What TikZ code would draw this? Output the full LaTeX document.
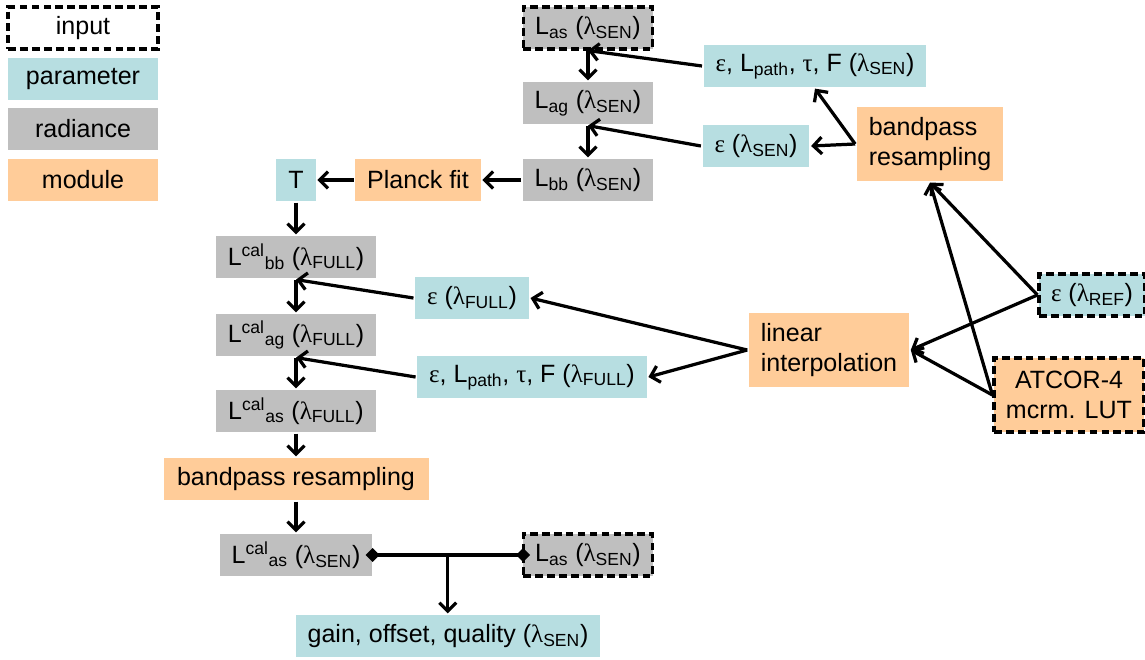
\documentclass[tikz,border=0pt]{standalone}
\usepackage{fontspec}
\setmainfont{Liberation Sans}
\newfontfamily\grk{Liberation Serif}
\usetikzlibrary{arrows.meta,positioning,calc}
\definecolor{parcol}{RGB}{183,222,225}
\definecolor{radcol}{RGB}{191,191,191}
\definecolor{modcol}{RGB}{255,204,153}
\newcommand{\wl}[1]{({\grk λ}\textsubscript{#1})}
\newcommand{\eps}{{\grk ε}}
\newcommand{\tr}{{\grk τ}}
\newcommand{\Ls}[1]{L\textsubscript{#1}}
\newcommand{\Lc}[1]{L\textsuperscript{cal}\textsubscript{#1}}

\begin{document}
\begin{tikzpicture}[on grid, node distance=1.9cm, line width=2.3pt,
    >={Straight Barb[length=6pt,width=12pt]},
    every node/.style={font=\fontsize{17.8pt}{21.3pt}\selectfont, inner xsep=0.3cm, inner ysep=0pt, minimum height=1.05cm},
    parbox/.style={fill=parcol}, radbox/.style={fill=radcol}, modbox/.style={fill=modcol},
    inbox/.style={draw, dash pattern=on 5.5pt off 3pt, line width=2.2pt},
    legend/.style={minimum width=3.75cm},
    twoline/.style={align=left, minimum height=1.85cm}]
  \useasboundingbox (0,0) rectangle (28.625,-16.475);

  % legend
  \node[inbox,legend,fill=white] (leg1) at (2.075,-0.7) {input};
  \node[parbox,legend] (leg2) [below=1.275cm of leg1] {parameter};
  \node[radbox,legend] (leg3) [below=1.25cm of leg2] {radiance};
  \node[modbox,legend] (leg4) [below=1.275cm of leg3] {module};

  % radiances at sensor and full resolution
  \node[radbox,inbox] (las) at (14.7,-0.7) {\Ls{as} \wl{SEN}};
  \node[radbox] (lag) [below=1.875cm of las] {\Ls{ag} \wl{SEN}};
  \node[radbox] (lbb) [below=1.925cm of lag] {\Ls{bb} \wl{SEN}};
  \node[modbox] (planck) [left=4.25cm of lbb] {Planck fit};
  \node[parbox] (temp) [left=3.05cm of planck] {T};
  \node[radbox] (calbb) [below=1.925cm of temp] {\Lc{bb} \wl{FULL}};
  \node[radbox] (calag) [below=1.95cm of calbb] {\Lc{ag} \wl{FULL}};
  \node[radbox] (calas) [below=1.9cm of calag] {\Lc{as} \wl{FULL}};
  \node[modbox,minimum width=6.625cm] (bplow) [below=1.7cm of calas] {bandpass resampling};
  \node[radbox] (calsen) [below=1.9cm of bplow] {\Lc{as} \wl{SEN}};
  \node[radbox,inbox] (lasin) [right=7.3cm of calsen] {\Ls{as} \wl{SEN}};
  \node[parbox] (gain) [below right=2.025cm and 3.8cm of calsen] {gain, offset, quality \wl{SEN}};

  % parameters and modules
  \node[parbox] (parsen) [below right=0.95cm and 5.675cm of las] {\eps, \Ls{path}, \tr, F \wl{SEN}};
  \node[parbox] (epssen) [below right=1.075cm and 4.2cm of lag] {\eps{} \wl{SEN}};
  \node[modbox,twoline] (bpup) [above right=0.05cm and 4.35cm of epssen] {bandpass\\resampling};
  \node[parbox] (epsfull) [below right=1.025cm and 4.4cm of calbb] {\eps{} \wl{FULL}};
  \node[parbox] (parfull) [below right=1.05cm and 5.9cm of calag] {\eps, \Ls{path}, \tr, F \wl{FULL}};
  \node[modbox,twoline] (linint) [above right=0.675cm and 7.425cm of parfull] {linear\\interpolation};
  \node[parbox,inbox] (epsref) [above right=1.375cm and 6.575cm of linint] {\eps{} \wl{REF}};
  \node[modbox,inbox,align=center,minimum height=1.85cm] (atcor) [below right=1.125cm and 6cm of linint] {ATCOR-4\\mcrm. LUT};

  % arrows
  \path[->]
    (parsen.west) edge (las.south)
    (las) edge (lag)
    (epssen.west) edge (lag.south)
    (lag) edge (lbb)
    (bpup.west) edge (epssen.east)
    (bpup.west) edge (parsen.south)
    (lbb) edge (planck)
    (planck) edge (temp)
    (temp) edge (calbb)
    (epsfull.west) edge (calbb.south)
    (calbb) edge (calag)
    (parfull.west) edge (calag.south)
    (calag) edge (calas)
    (calas) edge (bplow)
    (bplow) edge (calsen)
    (linint.west) edge (epsfull.east)
    (linint.west) edge (parfull.east)
    (epsref.west) edge (bpup.south)
    (epsref.west) edge (linint.east)
    (atcor.west) edge (bpup.south)
    (atcor.west) edge (linint.east);

  % comparison of both sensor radiances
  \coordinate (split) at ($(calsen.east)!0.5!(lasin.west)$);
  \draw[{Diamond[length=10pt,width=10pt]}-{Diamond[length=10pt,width=10pt]}, shorten <=-6pt, shorten >=-6pt]
    (calsen.east) -- (lasin.west);
  \draw[->] (split) -- (split |- gain.north);
\end{tikzpicture}
\end{document}
